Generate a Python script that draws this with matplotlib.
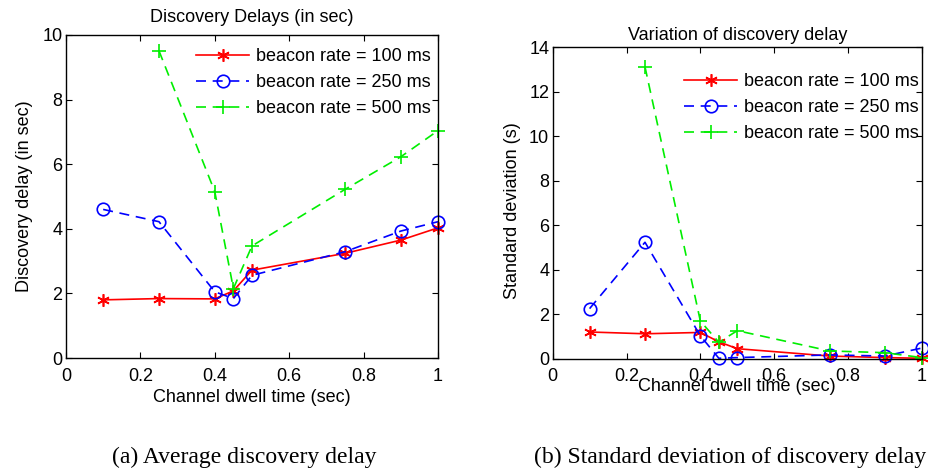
import matplotlib
matplotlib.use("Agg")
import matplotlib.pyplot as plt

plt.rcParams["font.family"] = ["Liberation Sans", "DejaVu Sans"]

# dwell time (sec)
dwell = [0.1, 0.25, 0.4, 0.45, 0.5, 0.75, 0.9, 1.0]
dwell_500 = [0.25, 0.4, 0.45, 0.5, 0.75, 0.9, 1.0]

# average discovery delay (sec)
avg_100 = [1.80, 1.84, 1.83, 2.08, 2.72, 3.24, 3.65, 4.03]
avg_250 = [4.60, 4.22, 2.05, 1.84, 2.56, 3.29, 3.93, 4.22]
avg_500 = [9.51, 5.15, 2.15, 3.47, 5.22, 6.23, 7.04]

# standard deviation (s)
std_100 = [1.20, 1.12, 1.18, 0.76, 0.45, 0.12, 0.05, 0.02]
std_250 = [2.25, 5.23, 1.03, 0.02, 0.05, 0.17, 0.12, 0.48]
std_500 = [13.11, 1.69, 0.74, 1.26, 0.35, 0.27, 0.05]

labels = ["beacon rate = 100 ms", "beacon rate = 250 ms", "beacon rate = 500 ms"]
asterisk = (6, 2, 0)
FS = 13


def draw(ax, y100, y250, y500):
    ax.plot(dwell, y100, color="red", ls="-", lw=1.2, marker=asterisk,
            ms=9, mew=1.2, clip_on=False, label=labels[0])
    ax.plot(dwell, y250, color="blue", ls=(0, (6, 4)), lw=1.2, marker="o",
            ms=9, mfc="none", mew=1.2, clip_on=False, label=labels[1])
    ax.plot(dwell_500, y500, color="#00ee00", ls=(0, (6, 4)), lw=1.2,
            marker="+", ms=10, mew=1.2, clip_on=False, label=labels[2])
    ax.set_xlim(0, 1)
    ax.set_xticks([0, 0.2, 0.4, 0.6, 0.8, 1])
    ax.set_xticklabels(["0", "0.2", "0.4", "0.6", "0.8", "1"])
    ax.tick_params(direction="in", top=True, right=True, labelsize=FS,
                   length=4)
    ax.tick_params(axis="x", pad=7)
    ax.tick_params(axis="y", pad=2.5)
    for s in ax.spines.values():
        s.set_linewidth(1.0)


def add_legend(ax, anchor):
    ax.legend(loc="upper right", bbox_to_anchor=anchor, frameon=False,
              fontsize=FS, handlelength=2.95, handletextpad=0.39,
              labelspacing=0.5, borderaxespad=0, borderpad=0)


fig = plt.figure(figsize=(9.29, 4.71), dpi=100)

ax1 = fig.add_axes([0.0710, 0.2399, 0.4005, 0.6858])
draw(ax1, avg_100, avg_250, avg_500)
ax1.set_ylim(0, 10)
ax1.set_yticks([0, 2, 4, 6, 8, 10])
ax1.set_title("Discovery Delays (in sec)", fontsize=FS, pad=9)
ax1.set_xlabel("Channel dwell time (sec)", fontsize=FS, labelpad=3)
ax1.set_ylabel("Discovery delay (in sec)", fontsize=FS, labelpad=6.5)
add_legend(ax1, (0.981, 0.960))

ax2 = fig.add_axes([0.5949, 0.2384, 0.3975, 0.6618])
draw(ax2, std_100, std_250, std_500)
ax2.set_ylim(0, 14)
ax2.set_yticks([0, 2, 4, 6, 8, 10, 12, 14])
ax2.set_title("Variation of discovery delay", fontsize=FS, pad=5)
ax2.set_xlabel("Channel dwell time (sec)", fontsize=FS, labelpad=-5)
ax2.set_ylabel("Standard deviation (s)", fontsize=FS)
ax2.yaxis.set_label_coords(-0.085, 0.474)
add_legend(ax2, (0.992, 0.917))

serif = ["Liberation Serif", "DejaVu Serif"]
fig.text(0.2627, 0.017, "(a) Average discovery delay", ha="center",
         va="baseline", fontsize=17, family=serif)
fig.text(0.7864, 0.017, "(b) Standard deviation of discovery delay",
         ha="center", va="baseline", fontsize=17, family=serif)

fig.savefig("out.png", dpi=100)
